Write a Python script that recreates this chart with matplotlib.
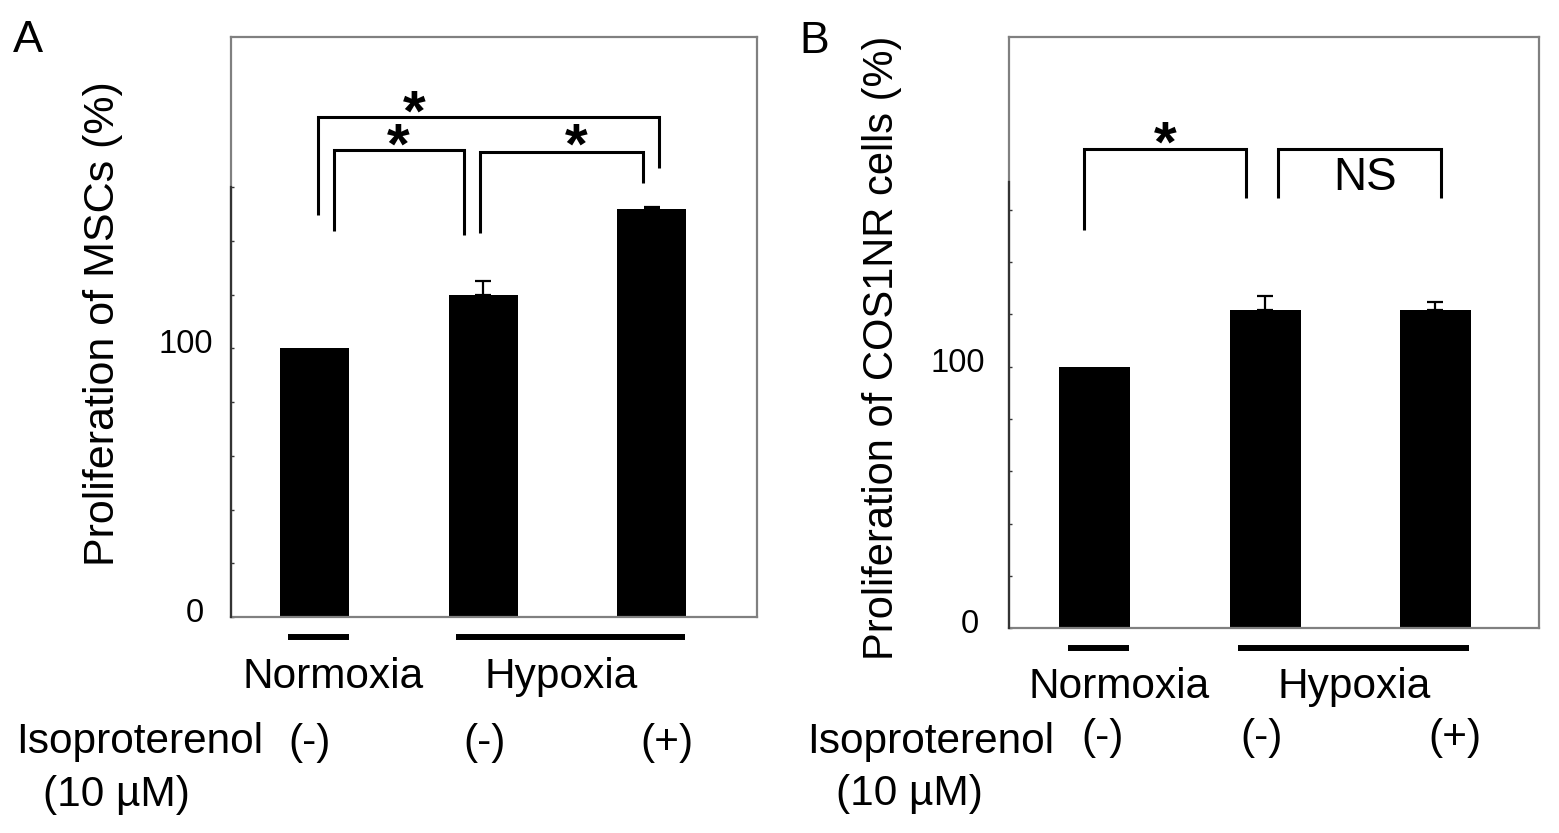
import matplotlib.pyplot as plt
from matplotlib.transforms import ScaledTranslation

plt.rcParams['font.family'] = ['Liberation Sans', 'DejaVu Sans']
plt.rcParams['mathtext.fontset'] = 'custom'
plt.rcParams['mathtext.rm'] = 'Liberation Sans'
plt.rcParams['mathtext.bf'] = 'Liberation Sans:bold'

# figure size in pixels
W, H = 1559, 833

# data
bar_x = [0, 1, 2]
iso_labels = ['(-)', '(-)', '(+)']
group_names = ['Normoxia', 'Hypoxia']
group_bars = [[0], [1, 2]]

msc_values = [100, 119.8, 151.9]
msc_errors = [0, 5.4, 0.8]
cos_values = [100, 121.7, 121.7]
cos_errors = [0, 5.3, 3.1]

msc_ylabel = 'Proliferation of MSCs (%)'
cos_ylabel = 'Proliferation of COS1NR cells (%)'
ytick_values = [0, 20, 40, 60, 80, 100, 120, 140, 160]
ytick_labels = ['0', '', '', '', '', '100', '', '', '']

# brackets: (left x, right x, top y, left foot, right foot, label, label x, label y, is star)
msc_brackets = [
    (0.018, 2.042, 186.2, 149.8, 167.1, '*', 0.593, 181.6, True),
    (0.112, 0.887, 174.0, 143.8, 142.3, '*', 0.494, 169.3, True),
    (0.980, 1.949, 173.2, 143.1, 161.5, '*', 1.551, 169.3, True),
]
cos_brackets = [
    (-0.065, 0.890, 183.1, 152.4, 164.5, '*', 0.411, 178.9, True),
    (1.078, 2.033, 183.1, 164.5, 164.5, 'NS', 1.585, 167.7, False),
]


def px(x, y):
    return x / W, 1 - y / H


fig = plt.figure(figsize=(W / 100, H / 100), dpi=100)


def panel(left, top, right, bottom, values, errors, ylim_top, axis_top,
          width, xlim, brackets, tick_pad, zero_shift):
    x0, y1 = px(left, top)
    x1, y0 = px(right, bottom)
    ax = fig.add_axes([x0, y0, x1 - x0, y1 - y0])
    ax.bar(bar_x, values, width=width, color='black', zorder=2)
    # only bars that have an error get an (upper) error bar
    ex = [x for x, e in zip(bar_x, errors) if e > 0]
    ev = [v for v, e in zip(values, errors) if e > 0]
    ee = [e for e in errors if e > 0]
    ax.errorbar(ex, ev, yerr=[[0] * len(ee), ee], fmt='none',
                ecolor='black', elinewidth=1.6, capsize=6, capthick=1.6, zorder=3)
    ax.set_xlim(*xlim)
    ax.set_ylim(0, ylim_top)
    for s in ax.spines.values():
        s.set_color('#808080')
        s.set_linewidth(1.6)
    ax.plot([xlim[0], xlim[0]], [0, axis_top], color='#333333', lw=1.6,
            clip_on=False, zorder=4)
    ax.set_xticks([])
    ax.set_yticks(ytick_values)
    ax.set_yticklabels(ytick_labels, fontsize=23.5)
    ax.tick_params(axis='y', direction='in', length=2.5, width=1,
                   color='#333333', pad=tick_pad)
    for lab in ax.get_yticklabels():
        dx = -zero_shift / 100 if lab.get_text() == '0' else 0
        lab.set_transform(lab.get_transform()
                          + ScaledTranslation(dx, 0.07, fig.dpi_scale_trans))

    for (xa, xb, yt, yl, yr, lab, lx, ly, star) in brackets:
        ax.plot([xa, xa, xb, xb], [yl, yt, yt, yr], color='black', lw=2.2,
                solid_joinstyle='miter', solid_capstyle='butt', zorder=5)
        if star:
            ax.text(lx, ly, r'$\mathbf{' + lab + '}$', ha='center',
                    va='baseline', fontsize=42)
        else:
            ax.text(lx, ly, lab, ha='center', va='baseline', fontsize=33)

    # group underlines below the axis
    off = -20 / (bottom - top)
    for bars in group_bars:
        ax.plot([bar_x[bars[0]] - 0.16, bar_x[bars[-1]] + 0.2], [off, off],
                transform=ax.get_xaxis_transform(), color='black', lw=4.3,
                solid_capstyle='butt', clip_on=False)
    return ax


panel(231, 37, 757, 617, msc_values, msc_errors, 215.9, 160, 0.41,
      (-0.499, 2.626), msc_brackets, 12.8, 9)
panel(1009, 37, 1538.6, 628.2, cos_values, cos_errors, 226.0, 170.5, 0.417,
      (-0.505, 2.606), cos_brackets, 17.5, 6)

fs = 30.5
# panel letters
fig.text(*px(12.5, 51.7), 'A', fontsize=32.5, ha='left', va='baseline')
fig.text(*px(799.5, 52.7), 'B', fontsize=32, ha='left', va='baseline')

# y labels
fig.text(*px(103, 323.5), msc_ylabel, fontsize=31, rotation=90,
         ha='center', va='center')
fig.text(*px(882, 348), cos_ylabel, fontsize=30, rotation=90,
         ha='center', va='center')

# group names
for name, cx, base in zip(group_names, [333, 561.5], [688, 688]):
    fig.text(*px(cx, base), name, fontsize=fs, ha='center', va='baseline')
for name, cx, base in zip(group_names, [1118.6, 1354], [697.7, 697.7]):
    fig.text(*px(cx, base), name, fontsize=fs, ha='center', va='baseline')

# isoproterenol rows
fig.text(*px(139.5, 753), 'Isoproterenol', fontsize=fs, ha='center', va='baseline')
fig.text(*px(116, 806), '(10 µM)', fontsize=fs, ha='center', va='baseline')
fig.text(*px(931, 753), 'Isoproterenol', fontsize=fs, ha='center', va='baseline')
fig.text(*px(909.5, 805), '(10 µM)', fontsize=fs, ha='center', va='baseline')
for lab, cx in zip(iso_labels, [310, 485, 667]):
    fig.text(*px(cx, 754), lab, fontsize=fs, ha='center', va='baseline')
for lab, cx in zip(iso_labels, [1103, 1262, 1455]):
    fig.text(*px(cx, 749), lab, fontsize=fs, ha='center', va='baseline')

fig.savefig('out.png', dpi=100)
